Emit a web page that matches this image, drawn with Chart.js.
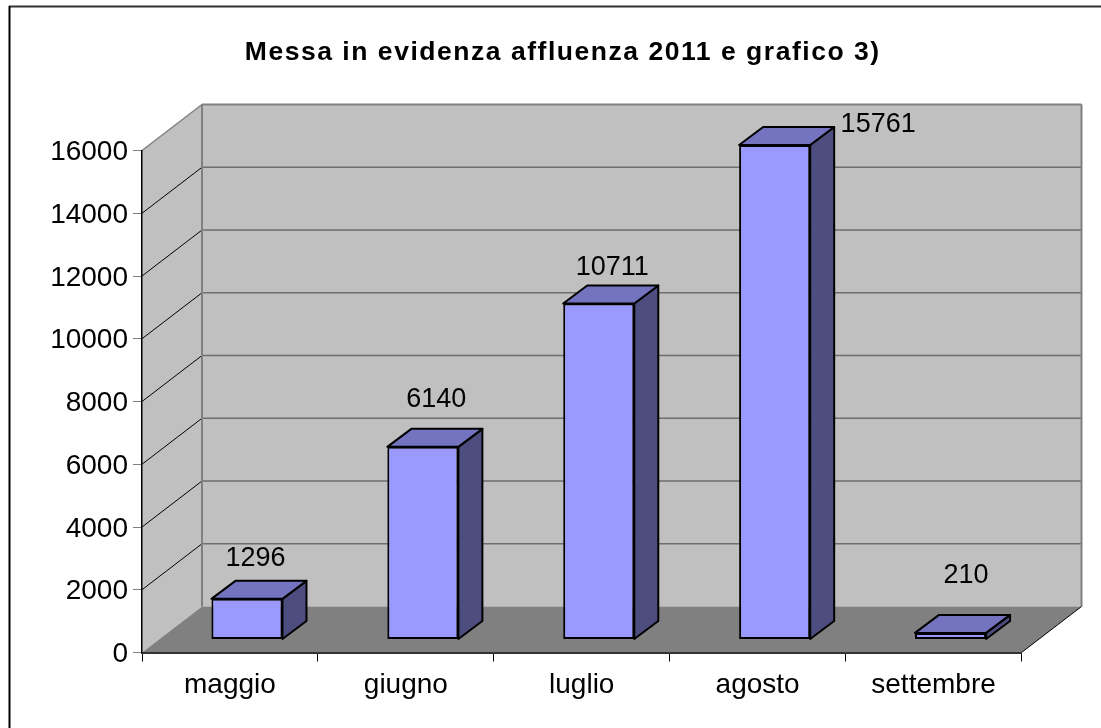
<!DOCTYPE html>
<html>
<head>
<meta charset="utf-8">
<title>Messa in evidenza affluenza</title>
<script src="https://cdn.jsdelivr.net/npm/chart.js"></script>
<style>
  html, body { margin: 0; padding: 0; background: #fff; }
  canvas { display: block; }
</style>
</head>
<body>
<canvas id="chart" width="1101" height="728"></canvas>
<script>
const months = ['maggio', 'giugno', 'luglio', 'agosto', 'settembre'];
const visitors = [1296, 6140, 10711, 15761, 210];
const chartTitle = 'Messa in evidenza affluenza 2011 e grafico 3)';

const FONT = '"Liberation Sans", Arial, sans-serif';

// excel style 3d box: depth of the room and of the bars
const roomDepth = { x: 60, y: 46 };
const barShift = { x: 17, y: -13 };
const barDepth = { x: 24, y: 18 };
// excel put the labels by hand, offset from the front top of each bar
const labelNudge = [[8.5, -40.5], [13.5, -47.5], [13.5, -35.5], [103.5, -20.5], [15.5, -57.5]];

function poly(ctx, pts, fill, stroke, lw) {
  ctx.beginPath();
  pts.forEach((p, i) => i ? ctx.lineTo(p[0], p[1]) : ctx.moveTo(p[0], p[1]));
  ctx.closePath();
  if (fill) { ctx.fillStyle = fill; ctx.fill(); }
  if (stroke) { ctx.strokeStyle = stroke; ctx.lineWidth = lw; ctx.lineJoin = 'round'; ctx.stroke(); }
}

function line(ctx, x1, y1, x2, y2, color, lw) {
  ctx.beginPath();
  ctx.moveTo(x1, y1);
  ctx.lineTo(x2, y2);
  ctx.strokeStyle = color;
  ctx.lineWidth = lw;
  ctx.stroke();
}

const room3d = {
  id: 'room3d',
  afterLayout(chart) {
    // the title needs tracking and is centred on the whole room, not on the front plane
    const block = chart.titleBlock;
    if (block && !block._tracked) {
      const draw = block.draw;
      block.draw = function () {
        const ctx = chart.ctx;
        ctx.save();
        ctx.translate(52, 0);
        ctx.letterSpacing = '1.53px';
        draw.call(this);
        ctx.restore();
      };
      block._tracked = true;
    }
  },
  beforeDraw(chart) {
    const { ctx, chartArea: a, scales: { y } } = chart;
    const dx = roomDepth.x, dy = roomDepth.y;
    ctx.save();
    // outer frame, only top and left are inside the picture
    line(ctx, 9, 6.5, 1101, 6.5, '#333', 2);
    line(ctx, 9.5, 6, 9.5, 728, '#000', 2);
    // walls and floor
    poly(ctx, [[a.left + dx, a.top - dy], [a.right + dx, a.top - dy], [a.right + dx, a.bottom - dy], [a.left + dx, a.bottom - dy]], '#C0C0C0');
    poly(ctx, [[a.left, a.top], [a.left + dx, a.top - dy], [a.left + dx, a.bottom - dy], [a.left, a.bottom]], '#C0C0C0');
    poly(ctx, [[a.left, a.bottom], [a.left + dx, a.bottom - dy], [a.right + dx, a.bottom - dy], [a.right, a.bottom]], '#808080');
    // grid on the walls
    y.ticks.forEach(t => {
      const py = y.getPixelForValue(t.value);
      if (t.value > 0 && t.value < y.max) {
        line(ctx, a.left + dx, py - dy, a.right + dx, py - dy, '#6e6e6e', 1.5);
        line(ctx, a.left, py, a.left + dx, py - dy, '#000', 1);
      }
    });
    line(ctx, a.left + dx, a.top - dy, a.right + dx, a.top - dy, '#808080', 2);
    line(ctx, a.left + dx, a.top - dy, a.left + dx, a.bottom - dy, '#808080', 2);
    line(ctx, a.right + dx, a.top - dy, a.right + dx, a.bottom - dy, '#808080', 2);
    line(ctx, a.left, a.top, a.left + dx, a.top - dy, '#808080', 1.5);
    line(ctx, a.right, a.bottom, a.right + dx, a.bottom - dy, '#000', 1);
    ctx.restore();
  },
  beforeDatasetsDraw(chart) {
    const ctx = chart.ctx;
    ctx.save();
    ctx.translate(barShift.x, barShift.y);
    chart.getDatasetMeta(0).data.forEach(bar => {
      const l = bar.x - bar.width / 2, r = bar.x + bar.width / 2;
      const t = bar.y, b = bar.base;
      const ox = barDepth.x, oy = barDepth.y;
      poly(ctx, [[r, t], [r + ox, t - oy], [r + ox, b - oy], [r, b]], '#4D4D80', '#000', 2);
      poly(ctx, [[l, t], [l + ox, t - oy], [r + ox, t - oy], [r, t]], '#7373BF', '#000', 2);
    });
  },
  afterDatasetsDraw(chart) {
    const ctx = chart.ctx;
    ctx.restore();
    ctx.save();
    ctx.font = '27px ' + FONT;
    ctx.fillStyle = '#000';
    ctx.textAlign = 'center';
    ctx.textBaseline = 'middle';
    chart.getDatasetMeta(0).data.forEach((bar, i) => {
      ctx.fillText(String(visitors[i]),
        bar.x + barShift.x + labelNudge[i][0],
        bar.y + barShift.y + labelNudge[i][1]);
    });
    ctx.restore();
  }
};

new Chart(document.getElementById('chart'), {
  type: 'bar',
  data: {
    labels: months,
    datasets: [{
      data: visitors,
      backgroundColor: '#9999FF',
      borderColor: '#000',
      borderWidth: 2,
      borderSkipped: false,
      barPercentage: 0.404,
      categoryPercentage: 1,
      clip: false
    }]
  },
  options: {
    responsive: false,
    animation: false,
    layout: { padding: { left: 0, right: 79.5, top: 0, bottom: 0 } },
    plugins: {
      legend: { display: false },
      tooltip: { enabled: false },
      title: {
        display: true,
        text: chartTitle,
        color: '#000',
        font: { family: FONT, size: 26.5, weight: 'bold', lineHeight: 1.2 },
        padding: { top: 37.1, bottom: 81.6 }
      }
    },
    scales: {
      x: {
        afterFit(scale) { scale.height = 75.5; },
        border: { color: '#333', width: 2 },
        grid: { drawOnChartArea: false, color: '#000', tickLength: 9 },
        ticks: { color: '#000', font: { family: FONT, size: 28 }, padding: 7, maxRotation: 0 }
      },
      y: {
        min: 0,
        max: 16000,
        afterFit(scale) { scale.width = 142; },
        border: { color: '#000', width: 1.5 },
        grid: { drawOnChartArea: false, color: '#808080', tickLength: 9 },
        ticks: {
          stepSize: 2000,
          color: '#000',
          font: { family: FONT, size: 28 },
          padding: 5,
          labelOffset: 2,
          callback: v => String(v)
        }
      }
    }
  },
  plugins: [room3d]
});
</script>
</body>
</html>
